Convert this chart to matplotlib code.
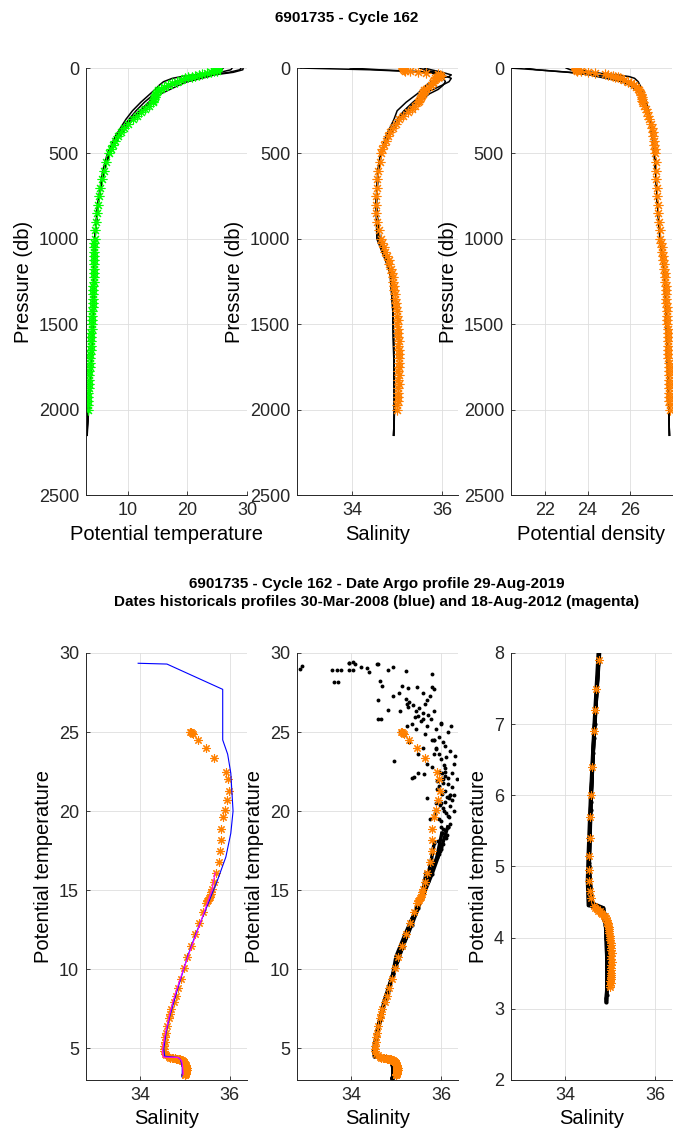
import matplotlib
matplotlib.use("Agg")
import matplotlib.pyplot as plt

plt.rcParams['font.family'] = ['Liberation Sans', 'DejaVu Sans']

# current Argo profile (cycle 162)
cur_pres = [0, 5, 10, 15, 20, 25, 30, 35, 40, 45, 50, 55, 60,
            70, 80, 90, 100, 110, 120, 130, 140, 150, 160, 170, 180, 190, 200,
            220, 240, 260, 280, 300,
            325, 350, 375, 400, 425, 450, 475, 500,
            550, 600, 650, 700, 750, 800, 850, 900, 950,
            1000, 1025, 1050, 1075, 1100, 1125, 1150, 1175, 1200, 1225, 1250, 1275,
            1300, 1325, 1350, 1375, 1400, 1425, 1450, 1475, 1500, 1525, 1550, 1575,
            1600, 1625, 1650, 1675, 1700, 1725, 1750, 1775, 1800, 1825, 1850, 1875,
            1900, 1925, 1950, 1975, 2000]
cur_temp = [25.0, 25.0, 24.95, 24.9, 24.5, 24.0, 23.35, 22.5, 22.0, 21.3, 20.7, 20.1, 19.6,
            18.9, 18.2, 17.5, 16.8, 16.1, 15.5, 15.1, 14.9, 14.75, 14.6, 14.5, 14.4, 14.3, 14.2,
            13.6, 12.9, 12.2, 11.5, 10.8,
            10.1, 9.4, 8.8, 8.3, 7.9, 7.5, 7.2, 6.9,
            6.4, 6.0, 5.7, 5.4, 5.15, 4.95, 4.8, 4.65, 4.55,
            4.45, 4.42, 4.4, 4.38, 4.37, 4.35, 4.33, 4.31, 4.3, 4.28, 4.27, 4.25,
            4.22, 4.2, 4.17, 4.15, 4.12, 4.09, 4.06, 4.03, 4.0, 3.96, 3.92, 3.89,
            3.85, 3.82, 3.78, 3.74, 3.7, 3.66, 3.62, 3.58, 3.55, 3.51, 3.48, 3.45,
            3.42, 3.39, 3.36, 3.33, 3.3]
cur_psal = [35.12, 35.14, 35.15, 35.18, 35.28, 35.47, 35.65, 35.91, 35.95, 35.98, 35.93, 35.88, 35.84,
            35.81, 35.80, 35.79, 35.76, 35.70, 35.65, 35.60, 35.58, 35.57, 35.55, 35.53, 35.51, 35.49, 35.47,
            35.40, 35.32, 35.23, 35.13, 35.05,
            34.98, 34.91, 34.85, 34.80, 34.75, 34.70, 34.67, 34.64,
            34.61, 34.58, 34.56, 34.55, 34.53, 34.53, 34.54, 34.56, 34.59,
            34.64, 34.67, 34.71, 34.74, 34.77, 34.81, 34.83, 34.86, 34.88, 34.90, 34.91, 34.93,
            34.94, 34.96, 34.96, 34.97, 34.98, 34.99, 34.99, 35.01, 35.0, 35.01, 35.02, 35.02,
            35.03, 35.02, 35.04, 35.03, 35.03, 35.04, 35.03, 35.02, 35.03, 35.02, 35.03, 35.02,
            35.02, 35.01, 35.02, 35.0, 35.0]
cur_dens = [23.45, 23.45, 23.47, 23.5, 23.7, 24.0, 24.35, 24.8, 24.97, 25.18, 25.3, 25.43, 25.54,
            25.7, 25.88, 26.02, 26.15, 26.27, 26.37, 26.42, 26.46, 26.5, 26.52, 26.54, 26.55, 26.57, 26.6,
            26.66, 26.72, 26.78, 26.84, 26.89,
            26.95, 27.0, 27.04, 27.07, 27.1, 27.12, 27.14, 27.16,
            27.18, 27.2, 27.22, 27.24, 27.26, 27.29, 27.31, 27.34, 27.37,
            27.41, 27.44, 27.46, 27.49, 27.51, 27.54, 27.56, 27.58, 27.6, 27.62, 27.63, 27.65,
            27.66, 27.67, 27.68, 27.69, 27.7, 27.71, 27.72, 27.73, 27.73, 27.74, 27.75, 27.76,
            27.76, 27.77, 27.77, 27.78, 27.78, 27.79, 27.79, 27.8, 27.8, 27.81, 27.81, 27.82,
            27.82, 27.83, 27.83, 27.84, 27.84]

# historical profiles (black), same pressure levels
hist_pres = [0, 10, 25, 40, 50, 60, 80, 100, 125, 150, 200, 250, 300, 400, 500, 600,
             800, 1000, 1200, 1400, 1600, 1800, 2000, 2150]
blue_temp = [29.35, 29.3, 27.7, 24.5, 23.6, 22.4, 20.0, 18.6, 17.1, 15.6, 13.9, 12.3, 10.9, 8.6, 7.0, 6.0,
             5.0, 4.5, 4.42, 4.3, 4.1, 3.8, 3.45, 3.2]
blue_psal = [33.96, 34.6, 35.84, 35.84, 35.95, 36.02, 36.07, 36.02, 35.91, 35.72, 35.48, 35.25, 35.07, 34.82, 34.66, 34.58,
             34.53, 34.55, 34.85, 34.9, 34.92, 34.94, 34.94, 34.93]
blue_dens = [21.1, 21.6, 23.1, 24.1, 24.45, 24.85, 25.6, 25.95, 26.25, 26.45, 26.65, 26.8, 26.93, 27.05, 27.15, 27.2,
             27.28, 27.38, 27.6, 27.67, 27.71, 27.76, 27.8, 27.83]
hist_temp = [
    [29.0, 28.8, 27.0, 24.0, 22.5, 21.0, 19.0, 17.6, 16.0, 14.5, 12.8, 11.4, 10.2, 8.1, 6.8, 5.9,
     5.0, 4.47, 4.33, 4.2, 4.0, 3.72, 3.4, 3.12],
    [27.5, 27.3, 25.5, 21.0, 19.0, 17.5, 16.0, 15.3, 14.6, 13.8, 12.2, 10.8, 9.7, 7.9, 6.6, 5.8,
     4.95, 4.45, 4.3, 4.18, 3.98, 3.7, 3.38, 3.1],
    [26.0, 25.8, 24.5, 22.0, 20.5, 19.5, 18.0, 16.8, 15.6, 14.9, 13.5, 12.0, 10.5, 8.4, 6.9, 6.0,
     5.05, 4.5, 4.35, 4.22, 4.02, 3.75, 3.42, 3.15],
]
hist_psal = [
    [32.87, 34.4, 35.7, 35.9, 36.1, 36.2, 36.15, 36.0, 35.8, 35.58, 35.35, 35.15, 35.0, 34.78, 34.64, 34.58,
     34.54, 34.6, 34.86, 34.91, 34.92, 34.93, 34.94, 34.92],
    [35.6, 35.75, 36.0, 36.2, 36.15, 35.95, 35.75, 35.65, 35.55, 35.45, 35.2, 35.0, 34.93, 34.75, 34.63, 34.57,
     34.53, 34.62, 34.84, 34.9, 34.92, 34.93, 34.94, 34.92],
    [35.5, 35.6, 35.85, 36.05, 36.0, 35.95, 35.85, 35.78, 35.68, 35.6, 35.4, 35.2, 35.02, 34.8, 34.65, 34.58,
     34.54, 34.58, 34.85, 34.91, 34.92, 34.93, 34.94, 34.92],
]
hist_dens = [
    [20.4, 21.6, 23.2, 24.3, 24.9, 25.4, 25.95, 26.2, 26.4, 26.55, 26.7, 26.82, 26.9, 27.02, 27.12, 27.18,
     27.27, 27.4, 27.6, 27.67, 27.71, 27.76, 27.8, 27.83],
    [23.0, 23.2, 24.0, 25.4, 25.95, 26.2, 26.37, 26.45, 26.53, 26.62, 26.76, 26.86, 26.95, 27.03, 27.12, 27.19,
     27.27, 27.42, 27.59, 27.67, 27.71, 27.76, 27.8, 27.83],
    [23.45, 23.6, 24.2, 25.05, 25.4, 25.65, 25.95, 26.2, 26.4, 26.5, 26.65, 26.78, 26.88, 27.02, 27.12, 27.18,
     27.27, 27.39, 27.6, 27.67, 27.71, 27.76, 27.8, 27.83],
]

# 18-Aug-2012 profile (magenta), theta-S only
mag_temp = [16.1, 15.0, 13.8, 12.6, 11.3, 10.1, 9.0, 8.0, 7.0, 6.0, 5.2, 4.8, 4.45, 4.42, 4.2, 3.8, 3.35]
mag_psal = [35.67, 35.6, 35.45, 35.3, 35.13, 34.98, 34.85, 34.74, 34.65, 34.57, 34.52, 34.5, 34.52, 34.85, 34.93, 34.95, 34.96]

# scattered historical theta-S points in the upper layer
cloud_psal = [32.90, 33.58, 33.68, 33.78, 33.62, 33.72, 33.95, 34.05, 34.10, 33.95, 34.05, 34.22, 34.36, 34.57,
              34.83, 34.94, 35.22, 34.64, 34.70, 35.14, 35.27, 35.47, 35.80, 35.80, 34.94, 35.07, 35.22, 35.24,
              35.26, 34.59, 34.82, 35.10, 35.30, 35.38, 35.45, 35.52, 35.60, 35.65, 35.72, 35.78, 35.85, 35.42,
              35.55, 35.35, 34.60, 34.67, 35.10, 35.17, 35.70, 35.90, 36.00, 36.22, 36.15, 35.95, 36.05, 35.80,
              36.10, 35.90, 36.20, 36.31, 36.30, 36.00, 35.85, 34.95, 35.35, 35.40, 35.50, 35.63, 35.70, 35.80,
              36.10, 36.25, 36.35, 36.15, 36.05, 36.25, 36.30, 36.18, 36.10, 35.95, 36.20, 36.28, 36.15, 36.05,
              36.20, 36.10, 36.00, 36.12, 36.05, 35.98, 35.70, 35.75, 35.90, 35.60, 35.50, 35.30, 35.65, 35.45,
              35.25, 36.02, 36.08, 35.95, 36.12, 35.92, 36.03, 35.88, 36.16, 35.99, 36.07, 35.94, 36.13, 36.01,
              35.86, 36.09, 35.97, 36.18, 36.04, 35.91, 36.11, 36.24, 36.14, 35.96]
cloud_temp = [29.15, 28.92, 28.92, 28.95, 28.17, 28.17, 29.38, 29.42, 29.30, 28.90, 28.92, 29.13, 29.08, 29.30,
              28.95, 29.10, 28.85, 28.25, 27.90, 27.90, 27.80, 27.82, 28.65, 27.85, 27.30, 27.50, 27.10, 26.80,
              26.60, 27.00, 26.40, 26.30, 26.90, 26.70, 26.35, 26.55, 26.20, 26.75, 26.05, 25.80, 26.30, 25.95,
              25.70, 25.50, 25.80, 25.80, 25.00, 24.80, 25.40, 25.20, 25.60, 25.40, 25.00, 24.70, 24.40, 24.50,
              24.10, 23.90, 23.80, 23.50, 23.00, 23.30, 23.60, 23.15, 22.10, 22.15, 22.40, 22.35, 23.00, 22.80,
              22.70, 22.40, 22.00, 22.10, 21.80, 21.50, 21.00, 20.80, 21.30, 21.60, 20.30, 20.00, 19.70, 20.20,
              19.20, 18.80, 19.00, 18.30, 17.90, 17.50, 20.80, 19.50, 20.50, 24.00, 23.60, 24.40, 24.90, 25.20,
              25.40, 21.10, 20.60, 22.50, 19.90, 21.90, 18.60, 20.10, 21.70, 19.40, 22.90, 18.10, 20.90, 17.70,
              19.80, 22.20, 20.40, 19.60, 18.90, 21.40, 23.40, 20.70, 18.50, 17.30]

green = '#00ff00'
orange = '#ff8000'
star = (8, 2, 0)
axcol = '#262626'

fig = plt.figure(figsize=(6.94, 11.38), dpi=100)


def style(ax):
    for s in ['top', 'right']:
        ax.spines[s].set_visible(False)
    for s in ['left', 'bottom']:
        ax.spines[s].set_color(axcol)
        ax.spines[s].set_linewidth(0.7)
    ax.tick_params(direction='in', length=3, width=0.6, colors=axcol, labelsize=13, pad=5)
    ax.grid(True, color='#dedede', linewidth=0.6)
    ax.set_axisbelow(True)


top = 0.565
h = 0.3752
lefts = [0.1239, 0.428, 0.7363]
w = 0.232

# top row: profiles vs pressure
ax1 = fig.add_axes([lefts[0], top, w, h])
ax2 = fig.add_axes([lefts[1], top, w, h])
ax3 = fig.add_axes([lefts[2], top, w, h])

for ax, bl, hs, cur, col in [(ax1, blue_temp, hist_temp, cur_temp, green),
                             (ax2, blue_psal, hist_psal, cur_psal, orange),
                             (ax3, blue_dens, hist_dens, cur_dens, orange)]:
    ax.plot(bl, hist_pres, color='k', lw=1.1)
    for prof in hs:
        ax.plot(prof, hist_pres, color='k', lw=1.1)
    ax.plot(cur, cur_pres, ls='none', marker=star, color=col, ms=7, mew=0.8)
    ax.set_ylim(2500, 0)
    ax.set_yticks([0, 500, 1000, 1500, 2000, 2500])
    ax.set_ylabel('Pressure (db)', fontsize=14.5)
    style(ax)

ax1.set_xlim(3, 30)
ax1.set_xticks([10, 20, 30])
ax1.set_xlabel('Potential temperature', fontsize=14.5)
ax2.set_xlim(32.78, 36.35)
ax2.set_xticks([34, 36])
ax2.set_xlabel('Salinity', fontsize=14.5)
ax3.set_xlim(20.42, 27.95)
ax3.set_xticks([22, 24, 26])
ax3.set_xlabel('Potential density', fontsize=14.5)

fig.text(0.5, 0.984, '6901735 - Cycle 162', ha='center', va='center',
         fontsize=11, fontweight='bold')

# bottom row: theta-S diagrams
bot = 0.051
ax4 = fig.add_axes([lefts[0], bot, w, h])
ax5 = fig.add_axes([lefts[1], bot, w, h])
ax6 = fig.add_axes([lefts[2], bot, w, h])

ax4.plot(cur_psal, cur_temp, ls='none', marker=star, color=orange, ms=6, mew=0.8)
ax4.plot(blue_psal, blue_temp, color='#0000ff', lw=0.8)
ax4.plot(mag_psal, mag_temp, color='#ff00ff', lw=0.8)
ax4.set_ylim(3, 30)
ax4.set_yticks([5, 10, 15, 20, 25, 30])

for ax in [ax5, ax6]:
    ax.plot(cloud_psal, cloud_temp, ls='none', marker='o', ms=2.8, color='k', mec='none')
    ax.plot(blue_psal[:7], blue_temp[:7], ls='none', marker='o', ms=2.8, color='k', mec='none')
    ax.plot(blue_psal[7:], blue_temp[7:], color='k', lw=2.5, marker='o', ms=3, mec='none')
    for ps, pt in zip(hist_psal, hist_temp):
        ax.plot(ps[:6], pt[:6], ls='none', marker='o', ms=2.8, color='k', mec='none')
        ax.plot(ps[6:], pt[6:], color='k', lw=2.5, marker='o', ms=3, mec='none')
    ax.plot(mag_psal, mag_temp, color='k', lw=2.5)
    ax.plot(cur_psal, cur_temp, ls='none', marker=star, color=orange, ms=6, mew=0.8)

ax5.set_ylim(3, 30)
ax5.set_yticks([5, 10, 15, 20, 25, 30])
ax6.set_ylim(2, 8)
ax6.set_yticks([2, 3, 4, 5, 6, 7, 8])

for ax in [ax4, ax5, ax6]:
    ax.set_xlim(32.8, 36.38)
    ax.set_xticks([34, 36])
    ax.set_xlabel('Salinity', fontsize=14.5)
    ax.set_ylabel('Potential temperature', fontsize=14.5)
    style(ax)

fig.text(0.543, 0.479,
         '6901735 - Cycle 162 - Date Argo profile 29-Aug-2019\n'
         'Dates historicals profiles 30-Mar-2008 (blue) and 18-Aug-2012 (magenta)',
         ha='center', va='center', fontsize=11, fontweight='bold', linespacing=1.3)

fig.savefig('out.png', dpi=100)
